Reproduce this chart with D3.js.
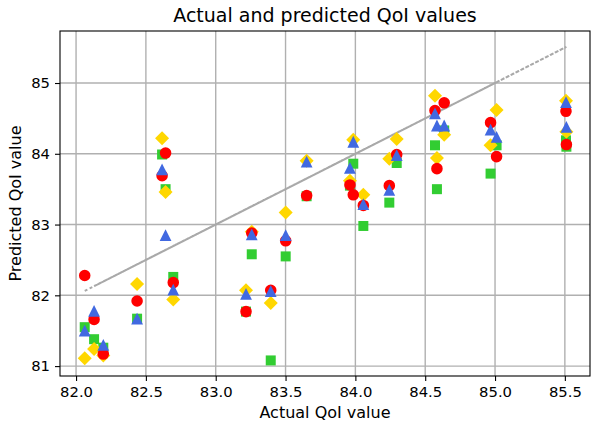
<!DOCTYPE html>
<html>
<head>
<meta charset="UTF-8">
<script src="https://d3js.org/d3.v7.min.js"></script>
<style>
body { margin: 0; background: #fff; }
text { font-family: "DejaVu Sans", sans-serif; fill: #000; }
</style>
</head>
<body>
<svg></svg>
<script>
// actual QoI values (x), in row order of the test set
let actual    = [82.062, 83.501, 85.511, 82.195, 84.243, 82.641, 85.011, 83.985, 83.217, 84.570, 82.696, 84.968,
                 83.651, 82.129, 84.636, 83.394, 83.961, 82.616, 84.057, 84.584, 82.437, 84.296, 83.258, 85.508];
// predicted values, one array per model
let predGreen = [81.55, 82.55, 84.10, 81.26, 83.31, 83.50, 84.12, 83.86, 81.77, 84.12, 82.26, 83.72,
                 83.40, 81.38, 84.33, 81.08, 83.55, 83.99, 82.98, 83.50, 81.67, 83.87, 82.58, 84.19];
let predGold  = [81.11, 83.17, 84.31, 81.15, 83.93, 83.46, 84.62, 84.20, 82.07, 84.82, 81.94, 84.12,
                 83.90, 81.24, 84.27, 81.89, 83.62, 84.22, 83.42, 83.94, 82.16, 84.21, 82.90, 84.75];
let predRed   = [82.28, 82.77, 84.13, 81.17, 83.55, 84.01, 83.96, 83.42, 81.77, 84.61, 82.18, 84.44,
                 83.41, 81.66, 84.72, 82.07, 83.56, 83.69, 83.27, 83.79, 81.92, 83.99, 82.88, 84.60];
let predBlue  = [81.50, 82.85, 84.38, 81.30, 83.49, 82.85, 84.24, 84.17, 82.02, 84.57, 82.08, 84.34,
                 83.89, 81.78, 84.40, 82.06, 83.80, 83.78, 83.29, 84.40, 81.67, 83.98, 82.86, 84.73];

let xTicks = [82.0, 82.5, 83.0, 83.5, 84.0, 84.5, 85.0, 85.5];
let yTicks = [81, 82, 83, 84, 85];

let width = 591, height = 427;
let mLeft = 60, mRight = 590, mTop = 31, mBottom = 376;

let svg = d3.select("svg")
    .attr("width", width)
    .attr("height", height);

let x = d3.scaleLinear().domain([81.885, 85.68]).range([mLeft, mRight]);
let y = d3.scaleLinear().domain([80.86, 85.735]).range([mBottom, mTop]);

// grid
svg.append("g").selectAll("line").data(xTicks).enter().append("line")
    .attr("x1", d => x(d)).attr("x2", d => x(d))
    .attr("y1", mTop).attr("y2", mBottom)
    .attr("stroke", "#b0b0b0").attr("stroke-width", 1.4);
svg.append("g").selectAll("line").data(yTicks).enter().append("line")
    .attr("y1", d => y(d)).attr("y2", d => y(d))
    .attr("x1", mLeft).attr("x2", mRight)
    .attr("stroke", "#b0b0b0").attr("stroke-width", 1.4);

// diagonal (actual vs actual)
let diag = actual.map(a => [a, a]);
svg.append("path")
    .attr("d", d3.line().x(d => x(d[0])).y(d => y(d[1]))(diag))
    .attr("fill", "none")
    .attr("stroke", "#a9a9a9")
    .attr("stroke-width", 2)
    .attr("stroke-dasharray", "3,2.5");

// markers
function tri(r) { return "M0," + (-r) + "L" + r + "," + r + "L" + (-r) + "," + r + "Z"; }
function diamond(r) { return "M0," + (-r) + "L" + r + ",0L0," + r + "L" + (-r) + ",0Z"; }

let series = [
  { vals: predGreen, color: "#32cd32", path: d3.symbol().type(d3.symbolSquare).size(100)() },
  { vals: predGold,  color: "#ffd700", path: diamond(7) },
  { vals: predRed,   color: "#ff0000", path: d3.symbol().type(d3.symbolCircle).size(105)() },
  { vals: predBlue,  color: "#4169e1", path: tri(5.9) }
];

series.forEach(s => {
  svg.append("g").selectAll("path").data(s.vals).enter().append("path")
      .attr("d", s.path)
      .attr("transform", (d, i) => "translate(" + x(actual[i]) + "," + y(d) + ")")
      .attr("fill", s.color);
});

// frame
svg.append("rect")
    .attr("x", mLeft).attr("y", mTop)
    .attr("width", mRight - mLeft).attr("height", mBottom - mTop)
    .attr("fill", "none").attr("stroke", "#000").attr("stroke-width", 1.1);

// axes
let xAxis = svg.append("g")
    .attr("transform", "translate(0," + mBottom + ")")
    .call(d3.axisBottom(x).tickValues(xTicks).tickFormat(d3.format(".1f")).tickSizeOuter(0).tickSize(5).tickPadding(5));
let yAxis = svg.append("g")
    .attr("transform", "translate(" + mLeft + ",0)")
    .call(d3.axisLeft(y).tickValues(yTicks).tickFormat(d3.format("d")).tickSizeOuter(0).tickSize(5).tickPadding(5));
[xAxis, yAxis].forEach(a => {
  a.select(".domain").remove();
  a.selectAll(".tick line").attr("stroke", "#000").attr("stroke-width", 1.1);
  a.selectAll(".tick text").style("font-size", "14.8px").style("font-family", "DejaVu Sans");
});

// labels
svg.append("text")
    .attr("x", (mLeft + mRight) / 2).attr("y", 22)
    .attr("text-anchor", "middle")
    .style("font-size", "19px")
    .text("Actual and predicted QoI values");
svg.append("text")
    .attr("x", (mLeft + mRight) / 2).attr("y", 418)
    .attr("text-anchor", "middle")
    .style("font-size", "16px")
    .text("Actual QoI value");
svg.append("text")
    .attr("transform", "translate(21," + ((mTop + mBottom) / 2) + ") rotate(-90)")
    .attr("text-anchor", "middle")
    .style("font-size", "16px")
    .text("Predicted QoI value");
</script>
</body>
</html>
